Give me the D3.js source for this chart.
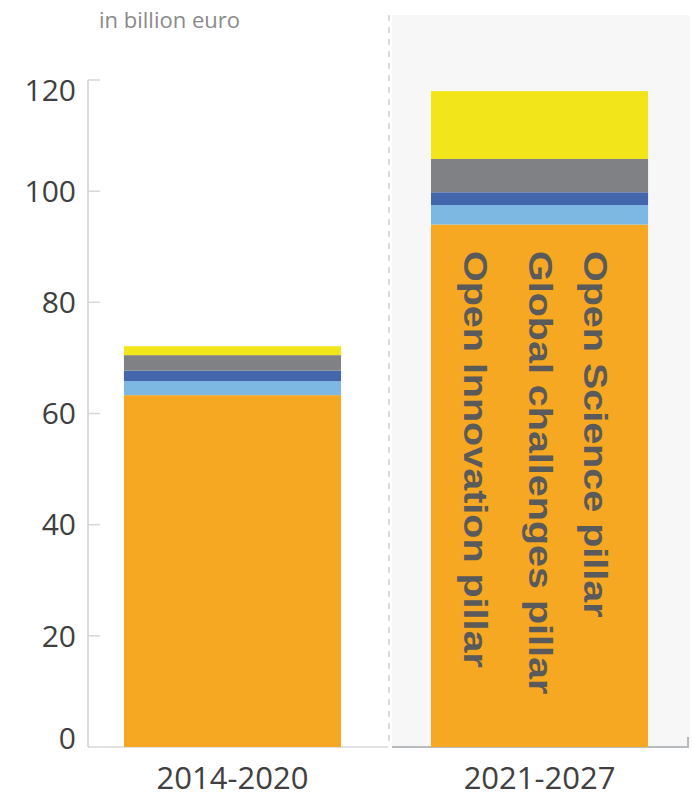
<!DOCTYPE html>
<html>
<head>
<meta charset="utf-8">
<script src="https://cdn.jsdelivr.net/npm/d3@7"></script>
<style>
  body { margin: 0; background: #fff; }
  svg { display: block; }
</style>
</head>
<body>
<div id="chart"></div>
<script>
// periods on the x axis
const periods = ["2014-2020", "2021-2027"];
// stack segments, bottom to top
const segments = ["core", "segment2", "segment3", "segment4", "segment5"];
const segmentColors = ["#f7a823", "#7cb8e2", "#4466ad", "#808184", "#f2e51a"];
const core = [63.3, 94.0];
const segment2 = [2.5, 3.5];
const segment3 = [1.9, 2.3];
const segment4 = [2.8, 6.0];
const segment5 = [1.6, 12.2];
const yTicks = [0, 20, 40, 60, 80, 100, 120];
const pillarLabels = ["Open Innovation pillar", "Global challenges pillar", "Open Science pillar"];
const unitLabel = "in billion euro";

const width = 692, height = 799;

const rows = periods.map((p, i) => ({
  period: p,
  core: core[i], segment2: segment2[i], segment3: segment3[i],
  segment4: segment4[i], segment5: segment5[i]
}));

const svg = d3.select("#chart").append("svg")
  .attr("width", width)
  .attr("height", height);

var x = d3.scaleBand()
  .domain(periods)
  .range([88, 684])
  .paddingInner(0.293)
  .paddingOuter(0.117);

var y = d3.scaleLinear()
  .domain([0, 120])
  .range([747, 80]);

// shaded panel for the future period
svg.append("rect")
  .attr("x", 392).attr("y", 15)
  .attr("width", 298).attr("height", y(0) - 15)
  .attr("fill", "#f7f7f7");

// dashed separator
svg.append("line")
  .attr("x1", 389).attr("x2", 389)
  .attr("y1", 15).attr("y2", y(0))
  .attr("stroke", "#dcdcdc")
  .attr("stroke-width", 2)
  .attr("stroke-dasharray", "6,6");

// left axis
svg.append("line")
  .attr("x1", 88).attr("x2", 88)
  .attr("y1", y(120)).attr("y2", y(0))
  .attr("stroke", "#cfd1d3").attr("stroke-width", 1.5);

svg.selectAll(".ytick")
  .data(yTicks.filter(d => d > 0))
  .enter().append("line")
  .attr("x1", 88).attr("x2", 100)
  .attr("y1", d => y(d)).attr("y2", d => y(d))
  .attr("stroke", "#d5d7d9").attr("stroke-width", 1.5);

svg.selectAll(".ylabel")
  .data(yTicks)
  .enter().append("text")
  .attr("x", 76)
  .attr("y", d => y(d) + (d === 120 ? 10 : d === 0 ? -9 : 0))
  .attr("dy", "0.36em")
  .attr("text-anchor", "end")
  .attr("font-family", "Open Sans")
  .attr("font-size", 30)
  .attr("fill", "#404040")
  .text(d => d);

// baselines
svg.append("line")
  .attr("x1", 88).attr("x2", 388)
  .attr("y1", y(0)).attr("y2", y(0))
  .attr("stroke", "#d5d7d9").attr("stroke-width", 1.5);
svg.append("path")
  .attr("d", "M392," + y(0) + "H688V" + (y(0) - 10))
  .attr("fill", "none")
  .attr("stroke", "#b9bcbf").attr("stroke-width", 2);

// stacked bars
const stack = d3.stack().keys(segments)(rows);

svg.selectAll(".layer")
  .data(stack)
  .enter().append("g")
  .attr("fill", (d, i) => segmentColors[i])
  .selectAll("rect")
  .data(d => d)
  .enter().append("rect")
  .attr("x", d => x(d.data.period))
  .attr("y", d => y(d[1]))
  .attr("width", x.bandwidth())
  .attr("height", d => y(d[0]) - y(d[1]));

// x labels
svg.selectAll(".xlabel")
  .data(periods)
  .enter().append("text")
  .attr("x", d => x(d) + x.bandwidth() / 2)
  .attr("y", 789)
  .attr("text-anchor", "middle")
  .attr("font-family", "Open Sans")
  .attr("font-size", 31)
  .attr("fill", "#404040")
  .text(d => d);

// unit label
svg.append("text")
  .attr("x", 99).attr("y", 28)
  .attr("font-family", "Open Sans")
  .attr("font-size", 22)
  .attr("fill", "#8a8a8a")
  .text(unitLabel);

// vertical pillar labels inside the second bar
const bx = x(periods[1]);
const labelBase = [33, 98, 153];
svg.selectAll(".pillar")
  .data(pillarLabels)
  .enter().append("text")
  .attr("transform", (d, i) => "translate(" + (bx + labelBase[i]) + ",251) rotate(90) scale(1,0.82)")
  .attr("font-family", "Liberation Sans")
  .attr("font-weight", "bold")
  .attr("font-size", 39.5)
  .attr("fill", "#5a5a5a")
  .text(d => d);
</script>
</body>
</html>
